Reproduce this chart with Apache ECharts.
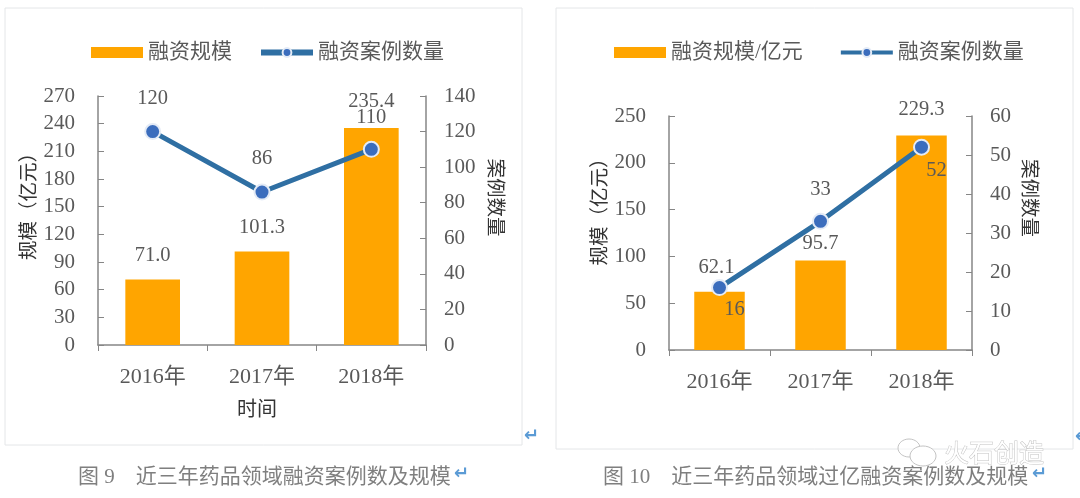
<!DOCTYPE html>
<html>
<head>
<meta charset="utf-8">
<style>
  html, body { margin: 0; padding: 0; background: #fff; }
  #chart { width: 1080px; height: 498px; }
</style>
<script src="https://cdn.jsdelivr.net/npm/echarts@6/dist/echarts.min.js"></script>
</head>
<body>
<div id="chart"></div>
<script>
const years = ["2016年", "2017年", "2018年"];

// Figure 9
const scale9 = [71.0, 101.3, 235.4];
const cases9 = [120, 86, 110];
// Figure 10
const scale10 = [62.1, 95.7, 229.3];
const cases10 = [16, 33, 52];

const FONT = '"Liberation Serif", "Noto Sans CJK SC", serif';
const TEXT = "#595959";
const AXIS = "#868686";
const ORANGE = "#ffa500";
const BLUE = "#2f6fa3";
const ARROW = "#5b9bd5";

function valueAxis(gridIndex, max, interval, name, isRight, nameGap, shift) {
  return {
    type: "value",
    gridIndex: gridIndex,
    position: isRight ? "right" : "left",
    min: 0,
    max: max,
    interval: interval,
    name: name,
    nameLocation: "middle",
    nameGap: nameGap,
    nameRotate: isRight ? -90 : 90,
    nameTextStyle: {
      fontFamily: FONT,
      fontSize: 19.5,
      color: "#333",
      // the names sit above the middle of the axis
      padding: isRight ? [0, shift, 0, 0] : [0, 0, 0, shift]
    },
    splitLine: { show: false },
    axisLine: { show: true, lineStyle: { color: AXIS, width: 1.5 } },
    axisTick: { show: true, inside: true, length: 6, lineStyle: { color: AXIS } },
    axisLabel: { fontFamily: FONT, fontSize: 21, color: TEXT, margin: isRight ? 18 : 23 }
  };
}

function catAxis(gridIndex, name) {
  return {
    type: "category",
    gridIndex: gridIndex,
    data: years,
    name: name,
    nameLocation: "middle",
    nameGap: 56,
    nameTextStyle: { fontFamily: FONT, fontSize: 20, color: "#333", padding: [0, 10, 0, 0] },
    axisLine: { lineStyle: { color: AXIS, width: 1.5 } },
    axisTick: { show: true, length: 6, lineStyle: { color: AXIS } },
    axisLabel: { fontFamily: FONT, fontSize: 22, color: TEXT, margin: 21 }
  };
}

function barSeries(name, axisIndex, values, labelOffsets) {
  return {
    name: name,
    type: "bar",
    xAxisIndex: axisIndex,
    yAxisIndex: axisIndex * 2,
    barWidth: "50%",
    itemStyle: { color: ORANGE },
    data: values.map((v, i) => ({
      value: v,
      label: {
        show: true,
        position: "top",
        distance: 14,
        offset: labelOffsets[i],
        fontFamily: FONT,
        fontSize: 20.5,
        color: TEXT,
        formatter: p => p.value.toFixed(1)
      }
    }))
  };
}

function lineSeries(axisIndex, values, labelOffsets) {
  return {
    name: "融资案例数量",
    type: "line",
    xAxisIndex: axisIndex,
    yAxisIndex: axisIndex * 2 + 1,
    symbol: "circle",
    symbolSize: 15,
    lineStyle: { color: BLUE, width: 5 },
    itemStyle: { color: "#3b6dbd", borderColor: "#e4ebf6", borderWidth: 2 },
    z: 5,
    data: values.map((v, i) => ({
      value: v,
      label: {
        show: true,
        position: "inside",
        offset: labelOffsets[i],
        fontFamily: FONT,
        fontSize: 20.5,
        color: TEXT
      }
    }))
  };
}

function legend(left, itemGap, lineWidth, names) {
  return {
    left: left,
    top: 37,
    itemWidth: 52,
    itemHeight: 11,
    itemGap: itemGap,
    lineStyle: { width: lineWidth },
    textStyle: { fontFamily: FONT, fontSize: 21, color: TEXT },
    data: names
  };
}

function frame(x, y, w, h) {
  return {
    type: "rect",
    silent: true,
    z: -10,
    shape: { x: x, y: y, width: w, height: h },
    style: { fill: "#fff", stroke: "#e4e6e8", lineWidth: 1 }
  };
}

function returnMark(x, y) {
  return {
    type: "text", x: x, y: y, silent: true,
    style: {
      text: "↵", fill: ARROW, fontFamily: "DejaVu Sans", fontSize: 18,
      fontWeight: "bold", verticalAlign: "middle"
    }
  };
}

function caption(x, text) {
  return {
    type: "text", x: x, y: 477, silent: true,
    style: { text: text, fill: "#7f7f7f", fontFamily: FONT, fontSize: 21, verticalAlign: "middle" }
  };
}

const chart = echarts.init(document.getElementById("chart"));
chart.setOption({
  animation: false,
  backgroundColor: "#fff",
  grid: [
    { left: 98, top: 96, width: 328, height: 249 },
    { left: 669, top: 116, width: 303, height: 234 }
  ],
  xAxis: [catAxis(0, "时间"), catAxis(1, "")],
  yAxis: [
    valueAxis(0, 270, 30, "规模（亿元）", false, 53, 38),
    valueAxis(0, 140, 20, "案例数量", true, 58, 46),
    valueAxis(1, 250, 50, "规模（亿元）", false, 56, 52),
    valueAxis(1, 60, 10, "案例数量", true, 46, 70)
  ],
  legend: [
    legend(86, 26, 6, [{ name: "融资规模", icon: "rect" }, { name: "融资案例数量" }]),
    legend(609, 36, 4, [{ name: "融资规模/亿元", icon: "rect" }, { name: "融资案例数量" }])
  ],
  series: [
    barSeries("融资规模", 0, scale9, [[0, 0], [0, 0], [0, -2]]),
    lineSeries(0, cases9, [[0, -33], [0, -33], [0, -32]]),
    barSeries("融资规模/亿元", 1, scale10, [[-3, 0], [0, 7], [0, -2]]),
    lineSeries(1, cases10, [[15, 22], [0, -32], [15, 23]])
  ],
  graphic: [
    frame(5, 8, 517, 437),
    frame(556, 8, 517, 441),
    caption(78, "图 9    近三年药品领域融资案例数及规模"),
    returnMark(454, 474),
    caption(603, "图 10    近三年药品领域过亿融资案例数及规模"),
    returnMark(1032, 474),
    returnMark(524, 436),
    returnMark(1075, 437),
    { type: "text", x: 944, y: 452, silent: true, z: 20,
      style: { text: "火石创造", fill: "#fff", stroke: "#c4c4c4", lineWidth: 1, fontFamily: "Noto Sans CJK SC", fontSize: 25, verticalAlign: "middle" } },
    { type: "ellipse", silent: true, z: 20, shape: { cx: 909, cy: 448, rx: 11, ry: 9 },
      style: { fill: "rgba(255,255,255,0.6)", stroke: "#c4c4c4", lineWidth: 1 } },
    { type: "ellipse", silent: true, z: 20, shape: { cx: 923, cy: 456, rx: 13, ry: 10 },
      style: { fill: "#fff", stroke: "#c4c4c4", lineWidth: 1 } }
  ]
});
</script>
</body>
</html>
